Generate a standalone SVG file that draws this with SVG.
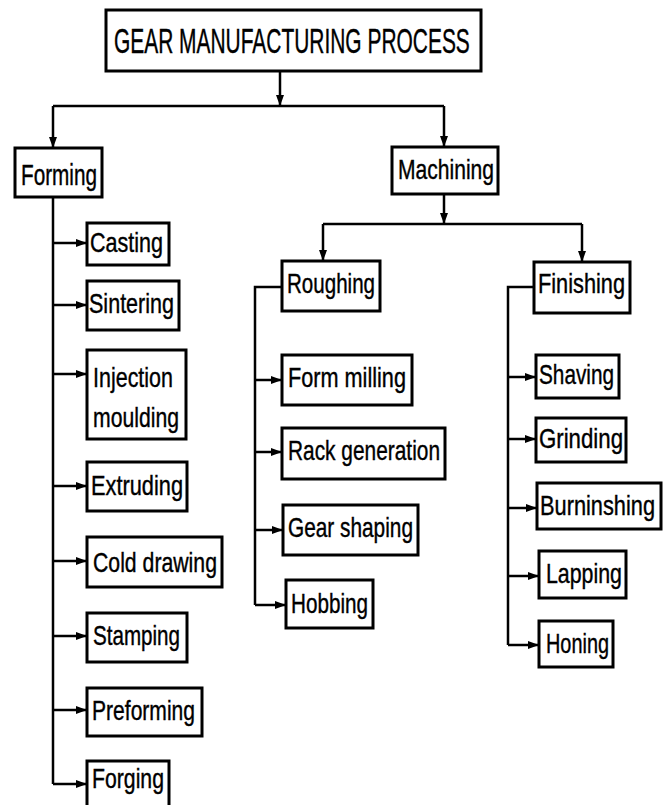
<svg xmlns="http://www.w3.org/2000/svg" width="664" height="805" viewBox="0 0 664 805">
<style>
.box{fill:#fff;stroke:#000;stroke-width:3}
.t{font-family:"Liberation Sans",Arial,sans-serif;font-size:28px;fill:#000;stroke:#000;stroke-width:0.4}
.c{fill:none;stroke:#000;stroke-width:2.5}
.a{marker-end:url(#ah)}
</style>
<defs>
<marker id="ah" markerUnits="userSpaceOnUse" markerWidth="11" markerHeight="8" refX="11" refY="4" orient="auto">
<path d="M0,0 L11,4 L0,8 z" fill="#000"/>
</marker>
</defs>
<rect width="664" height="805" fill="#fff"/>
<g id="connectors">
<path class="c a" d="M280,71 V106"/>
<path class="c" d="M53,106 H444"/>
<path class="c a" d="M53,106 V148"/>
<path class="c a" d="M444,106 V147"/>
<path class="c" d="M53,197 V784"/>
<path class="c a" d="M53,243 H87"/>
<path class="c a" d="M53,305 H87"/>
<path class="c a" d="M53,374 H87"/>
<path class="c a" d="M53,486 H87"/>
<path class="c a" d="M53,561 H87"/>
<path class="c a" d="M53,636 H87"/>
<path class="c a" d="M53,710 H87"/>
<path class="c a" d="M53,784 H87"/>
<path class="c a" d="M444,194 V224"/>
<path class="c" d="M323,224 H582"/>
<path class="c a" d="M323,224 V261"/>
<path class="c a" d="M582,224 V262"/>
<path class="c" d="M282,287 H255 V605"/>
<path class="c a" d="M255,380 H282"/>
<path class="c a" d="M255,452 H282"/>
<path class="c a" d="M255,530 H283"/>
<path class="c a" d="M255,605 H286"/>
<path class="c" d="M534,287 H508 V645"/>
<path class="c a" d="M508,377 H536"/>
<path class="c a" d="M508,439 H536"/>
<path class="c a" d="M508,508 H537"/>
<path class="c a" d="M508,576 H539"/>
<path class="c a" d="M508,645 H539"/>
</g>
<g id="root"><rect class="box" x="106" y="10" width="375" height="61"/><text class="t" transform="translate(114,53) scale(0.6,1)" textLength="593" lengthAdjust="spacingAndGlyphs" style="font-size:35px">GEAR MANUFACTURING PROCESS</text></g>
<g id="forming"><rect class="box" x="15" y="148" width="87" height="49"/><text class="t" transform="translate(21,185) scale(0.77,1)" style="font-size:30px" textLength="98.7" lengthAdjust="spacingAndGlyphs">Forming</text></g>
<g id="machining"><rect class="box" x="392" y="147" width="106" height="47"/><text class="t" transform="translate(398,179) scale(0.77,1)" textLength="124.7" lengthAdjust="spacingAndGlyphs">Machining</text></g>
<g id="casting"><rect class="box" x="87" y="223" width="82" height="42"/><text class="t" transform="translate(90,252) scale(0.77,1)" textLength="94.8" lengthAdjust="spacingAndGlyphs">Casting</text></g>
<g id="sintering"><rect class="box" x="87" y="281" width="92" height="49"/><text class="t" transform="translate(89,313) scale(0.77,1)" textLength="110.4" lengthAdjust="spacingAndGlyphs">Sintering</text></g>
<g id="injection"><rect class="box" x="87" y="350" width="99" height="89"/><text class="t" transform="translate(93,387) scale(0.77,1)" textLength="103.9" lengthAdjust="spacingAndGlyphs">Injection</text><text class="t" transform="translate(93,427) scale(0.77,1)" textLength="111.7" lengthAdjust="spacingAndGlyphs">moulding</text></g>
<g id="extruding"><rect class="box" x="87" y="462" width="100" height="49"/><text class="t" transform="translate(91,495) scale(0.77,1)" textLength="119.5" lengthAdjust="spacingAndGlyphs">Extruding</text></g>
<g id="colddrawing"><rect class="box" x="87" y="537" width="135" height="50"/><text class="t" transform="translate(93,572) scale(0.77,1)" textLength="161" lengthAdjust="spacingAndGlyphs">Cold drawing</text></g>
<g id="stamping"><rect class="box" x="87" y="613" width="100" height="49"/><text class="t" transform="translate(93,645) scale(0.77,1)" textLength="113" lengthAdjust="spacingAndGlyphs">Stamping</text></g>
<g id="preforming"><rect class="box" x="87" y="688" width="115" height="48"/><text class="t" transform="translate(92,720) scale(0.77,1)" textLength="133.8" lengthAdjust="spacingAndGlyphs">Preforming</text></g>
<g id="forging"><rect class="box" x="87" y="761" width="82" height="50"/><text class="t" transform="translate(92,788) scale(0.77,1)" textLength="93.5" lengthAdjust="spacingAndGlyphs">Forging</text></g>
<g id="roughing"><rect class="box" x="282" y="261" width="98" height="50"/><text class="t" transform="translate(287,293) scale(0.77,1)" textLength="114.3" lengthAdjust="spacingAndGlyphs">Roughing</text></g>
<g id="formmilling"><rect class="box" x="282" y="355" width="130" height="50"/><text class="t" transform="translate(288,387) scale(0.77,1)" textLength="153.2" lengthAdjust="spacingAndGlyphs">Form milling</text></g>
<g id="rackgeneration"><rect class="box" x="282" y="428" width="163" height="51"/><text class="t" transform="translate(288,460) scale(0.77,1)" textLength="197.4" lengthAdjust="spacingAndGlyphs">Rack generation</text></g>
<g id="gearshaping"><rect class="box" x="283" y="505" width="135" height="50"/><text class="t" transform="translate(288,537) scale(0.77,1)" textLength="162.3" lengthAdjust="spacingAndGlyphs">Gear shaping</text></g>
<g id="hobbing"><rect class="box" x="286" y="580" width="87" height="48"/><text class="t" transform="translate(291,613) scale(0.77,1)" textLength="100" lengthAdjust="spacingAndGlyphs">Hobbing</text></g>
<g id="finishing"><rect class="box" x="534" y="262" width="96" height="51"/><text class="t" transform="translate(538,293) scale(0.77,1)" textLength="113" lengthAdjust="spacingAndGlyphs">Finishing</text></g>
<g id="shaving"><rect class="box" x="536" y="355" width="83" height="43"/><text class="t" transform="translate(539,384) scale(0.77,1)" textLength="97.4" lengthAdjust="spacingAndGlyphs">Shaving</text></g>
<g id="grinding"><rect class="box" x="536" y="418" width="90" height="44"/><text class="t" transform="translate(539,448) scale(0.77,1)" textLength="109.1" lengthAdjust="spacingAndGlyphs">Grinding</text></g>
<g id="burninshing"><rect class="box" x="537" y="483" width="124" height="46"/><text class="t" transform="translate(540,515) scale(0.77,1)" textLength="149.4" lengthAdjust="spacingAndGlyphs">Burninshing</text></g>
<g id="lapping"><rect class="box" x="539" y="551" width="87" height="47"/><text class="t" transform="translate(546,583) scale(0.77,1)" textLength="98.7" lengthAdjust="spacingAndGlyphs">Lapping</text></g>
<g id="honing"><rect class="box" x="539" y="621" width="74" height="46"/><text class="t" transform="translate(546,653) scale(0.77,1)" textLength="81.8" lengthAdjust="spacingAndGlyphs">Honing</text></g>
</svg>
